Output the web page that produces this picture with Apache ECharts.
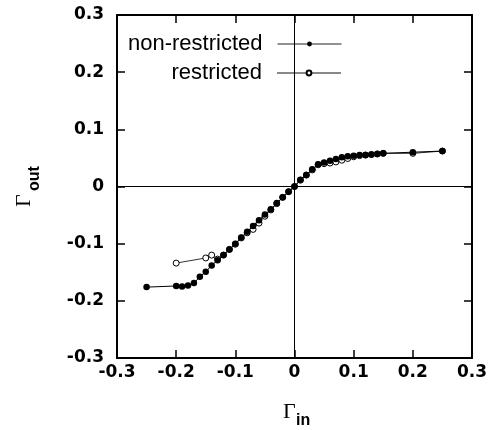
<!DOCTYPE html>
<html>
<head>
<meta charset="utf-8">
<script src="https://cdn.jsdelivr.net/npm/echarts@6/dist/echarts.min.js"></script>
<style>
html,body{margin:0;padding:0;background:#fff;}
#chart{width:495px;height:430px;}
</style>
</head>
<body>
<div id="chart"></div>
<script>
// ---- data ----
const seriesNames = ['non-restricted', 'restricted'];
const nonRestrictedX = [-0.25, -0.20, -0.19, -0.18, -0.17, -0.16, -0.15, -0.14, -0.13, -0.12, -0.11, -0.10, -0.09, -0.08, -0.07, -0.06, -0.05, -0.04, -0.03, -0.02, -0.01, 0.00, 0.01, 0.02, 0.03, 0.04, 0.05, 0.06, 0.07, 0.08, 0.09, 0.10, 0.11, 0.12, 0.13, 0.14, 0.15, 0.20, 0.25];
const nonRestrictedY = [-0.176, -0.174, -0.175, -0.173, -0.169, -0.158, -0.149, -0.138, -0.129, -0.120, -0.110, -0.100, -0.089, -0.079, -0.069, -0.059, -0.049, -0.040, -0.029, -0.019, -0.009, 0.000, 0.012, 0.020, 0.030, 0.039, 0.042, 0.045, 0.048, 0.051, 0.053, 0.054, 0.055, 0.055, 0.056, 0.057, 0.058, 0.060, 0.062];
const restrictedX = [-0.20, -0.15, -0.14, -0.13, -0.12, -0.11, -0.10, -0.09, -0.08, -0.07, -0.06, -0.05, -0.04, -0.03, -0.02, -0.01, 0.00, 0.01, 0.02, 0.03, 0.04, 0.05, 0.06, 0.07, 0.08, 0.09, 0.10, 0.11, 0.12, 0.13, 0.14, 0.15, 0.20, 0.25];
const restrictedY = [-0.134, -0.125, -0.120, -0.127, -0.120, -0.110, -0.101, -0.090, -0.081, -0.075, -0.064, -0.052, -0.041, -0.030, -0.019, -0.009, 0.000, 0.011, 0.020, 0.029, 0.038, 0.040, 0.041, 0.043, 0.046, 0.049, 0.052, 0.054, 0.055, 0.056, 0.057, 0.058, 0.058, 0.062];
const xTickLabels = ['-0.3', '-0.2', '-0.1', '0', '0.1', '0.2', '0.3'];
const yTickLabels = ['-0.3', '-0.2', '-0.1', '0', '0.1', '0.2', '0.3'];
const axisMin = -0.3, axisMax = 0.3, axisStep = 0.1;

// ---- chart ----
const chart = echarts.init(document.getElementById('chart'), null, {renderer: 'canvas'});
const pairs = (xs, ys) => xs.map((x, i) => [x, ys[i]]);
const tickFmt = labels => v => labels[Math.round((v - axisMin) / axisStep)] ?? '';

const frameLine = {show: true, onZero: false, lineStyle: {color: '#000', width: 2}};
const tickStyle = {show: true, inside: true, length: 8, lineStyle: {color: '#000', width: 1.5}};
const tickFont = {color: '#000', fontFamily: 'DejaVu Sans', fontWeight: 'bold', fontSize: 17};

function valueAxis(position, showLabel, labels, margin) {
  return {
    type: 'value', min: axisMin, max: axisMax, interval: axisStep, position: position,
    axisLine: frameLine, axisTick: tickStyle, splitLine: {show: false},
    axisLabel: Object.assign({show: showLabel, margin: margin, formatter: tickFmt(labels)}, tickFont)
  };
}

const legendText = {color: '#000', fontFamily: 'Liberation Sans', fontSize: 22, padding: [0, 10, 0, 0]};

const option = {
  animation: false,
  backgroundColor: '#fff',
  grid: {left: 117, right: 23, top: 15, bottom: 72, containLabel: false},
  xAxis: [valueAxis('bottom', true, xTickLabels, 6), valueAxis('top', false, xTickLabels, 6)],
  yAxis: [valueAxis('left', true, yTickLabels, 13), valueAxis('right', false, yTickLabels, 13)],
  legend: [
    {data: [{name: seriesNames[0], lineStyle: {color: '#222', width: 1}}], orient: 'vertical', align: 'right',
     right: 148, top: 28, itemWidth: 64, itemHeight: 6, textStyle: legendText, selectedMode: false},
    {data: [{name: seriesNames[1], lineStyle: {color: '#888', width: 2}}], orient: 'vertical', align: 'right',
     right: 148, top: 57, itemWidth: 64, itemHeight: 6, textStyle: legendText, selectedMode: false}
  ],
  series: [
    {
      name: seriesNames[1], type: 'line', data: pairs(restrictedX, restrictedY),
      symbol: 'circle', symbolSize: 6, z: 2,
      itemStyle: {color: '#fff', borderColor: '#000', borderWidth: 1},
      lineStyle: {color: '#333', width: 1},
      emphasis: {disabled: true}
    },
    {
      name: seriesNames[0], type: 'line', data: pairs(nonRestrictedX, nonRestrictedY),
      symbol: 'circle', symbolSize: 6.5, z: 3,
      itemStyle: {color: '#000'},
      lineStyle: {color: '#000', width: 1},
      emphasis: {disabled: true},
      markLine: {
        silent: true, symbol: ['none', 'none'], animation: false,
        label: {show: false},
        lineStyle: {color: '#000', width: 1, type: 'solid'},
        emphasis: {disabled: true},
        data: [{xAxis: 0}, {yAxis: 0}]
      }
    }
  ],
  graphic: [
    {type: 'text', x: 283, y: 412, style: {text: 'Γ', fontFamily: 'Liberation Serif', fontSize: 22, fill: '#000', align: 'left', verticalAlign: 'middle'}},
    {type: 'text', x: 296, y: 421, style: {text: 'in', fontFamily: 'Liberation Sans', fontWeight: 'bold', fontSize: 16, fill: '#000', align: 'left', verticalAlign: 'middle'}},
    {type: 'text', x: 24.5, y: 207, rotation: Math.PI / 2, style: {text: 'Γ', fontFamily: 'Liberation Serif', fontSize: 22, fill: '#000', align: 'left', verticalAlign: 'middle'}},
    {type: 'text', x: 35, y: 191, rotation: Math.PI / 2, style: {text: 'out', fontFamily: 'Liberation Sans', fontWeight: 'bold', fontSize: 16, fill: '#000', align: 'left', verticalAlign: 'middle'}}
  ]
};
chart.setOption(option);
</script>
</body>
</html>
